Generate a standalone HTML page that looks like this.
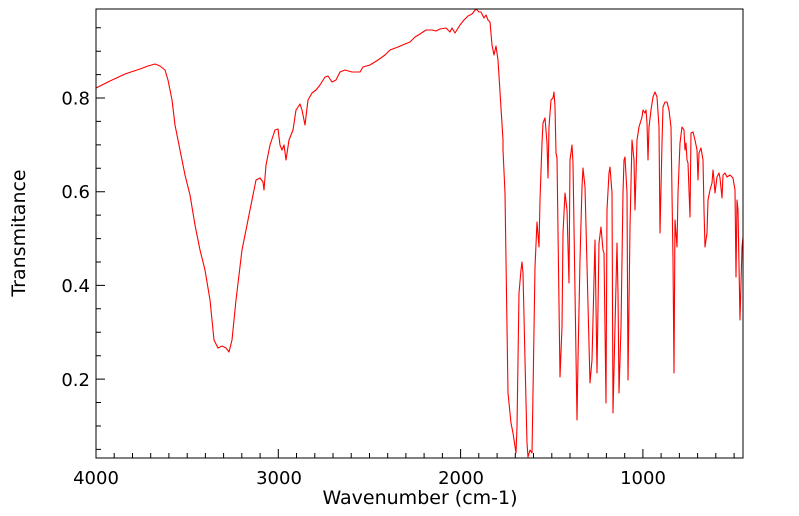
<!DOCTYPE html>
<html><head><meta charset="utf-8"><style>
body{margin:0;background:#fff;}
svg{display:block;font-family:"DejaVu Sans","Liberation Sans",sans-serif;}
</style></head><body>
<svg width="799" height="516" viewBox="0 0 799 516" xmlns="http://www.w3.org/2000/svg">
<rect width="799" height="516" fill="#fff"/>
<polyline fill="none" stroke="#ff0000" stroke-width="1.1" stroke-linejoin="round" points="
96,88 110,81 125,74 140,69 148,66 155,64 160,66 165,70 168,80 172,100 175,125 180,150 185,175 190,195 195,225 200,250 205,270 210,300 212,320 214,340 218,348 222,346 226,348 229,352 232,340 234,320 236,300 242,250 250,210 256,180 260,178 263,182 264,190 266,165 270,145 275,130 278,129 280,145 282,150 284,145 286,160 289,140 293,130 296,110 300,104 302,110 305,125 308,100 312,93 316,90 320,85 325,77 328,76 332,82 336,80 340,72 345,70 352,72 360,72 363,67 370,65 378,60 385,55 390,50 398,47 405,44 410,42 415,37 420,34 426,30 432,30 436,31 440,29 446,28 450,32 452,28 455,33 460,25 464,20 468,16 472,14 476,9 479,12 481,12 484,18 486,15 488,20 490,22 492,45 494,55 496,46 498,60 503,140 503,150 505,193 507,327 508,393 511,423 513,433 516,453 517,427 519,293 521,270 522,262 523,273 525,360 527,443 528,457 530,450 532,453 533,393 535,267 537,222 539,247 540,200 542,143 543,123 545,118 547,143 548,178 549,127 551,100 553,98 554,92 555,107 556,153 557,158 560,377 562,327 563,233 565,193 567,210 569,283 570,160 572,145 573,163 577,420 578,360 580,260 582,187 583,168 585,187 590,383 592,360 595,240 597,373 599,243 601,227 603,250 604,253 606,403 607,210 609,173 610,167 612,193 613,413 615,327 617,243 618,293 619,393 621,327 623,193 624,160 625,157 627,193 628,380 630,227 632,140 634,160 635,210 637,140 639,127 642,117 643,110 645,113 646,110 647,123 648,160 649,127 651,110 653,97 655,92 657,97 659,127 660,233 662,143 663,107 665,102 667,102 669,110 671,127 673,260 674,373 675,220 677,247 678,193 680,143 682,127 684,130 685,150 686,143 687,160 688,163 690,217 691,133 693,132 695,140 697,150 698,180 699,153 701,148 703,160 704,210 705,247 707,233 708,200 710,190 712,183 713,170 714,180 715,193 717,177 719,173 720,178 722,198 723,175 725,173 727,177 730,175 733,178 735,190 736,277 737,200 738,210 740,320 742,247 743,237"/>
<rect x="96" y="9" width="647" height="449" fill="none" stroke="#000" stroke-width="1"/>
<g stroke="#000" stroke-width="1">
<path d="M96,458v-9M114.2,458v-5M132.5,458v-5M150.7,458v-5M168.9,458v-5M187.2,458v-5M205.4,458v-5M223.6,458v-5M241.8,458v-5M260.1,458v-5M278.3,458v-9M296.5,458v-5M314.8,458v-5M333,458v-5M351.2,458v-5M369.5,458v-5M387.7,458v-5M405.9,458v-5M424.1,458v-5M442.4,458v-5M460.6,458v-9M478.8,458v-5M497.1,458v-5M515.3,458v-5M533.5,458v-5M551.8,458v-5M570,458v-5M588.2,458v-5M606.4,458v-5M624.7,458v-5M642.9,458v-9M661.1,458v-5M679.4,458v-5M697.6,458v-5M715.8,458v-5M734.1,458v-5"/>
<path d="M96,27.7h5M96,51.2h5M96,74.6h5M96,98h9M96,121.4h5M96,144.9h5M96,168.3h5M96,191.7h9M96,215.1h5M96,238.6h5M96,262h5M96,285.4h9M96,308.8h5M96,332.3h5M96,355.7h5M96,379.1h9M96,402.5h5M96,426h5M96,449.4h5"/>
</g>
<g font-size="18" fill="#000" text-anchor="end">
<text x="90" y="104.5">0.8</text>
<text x="90" y="198">0.6</text>
<text x="90" y="292">0.4</text>
<text x="90" y="386">0.2</text>
</g>
<g font-size="18" fill="#000" text-anchor="middle">
<text x="96" y="484">4000</text>
<text x="279" y="484">3000</text>
<text x="461" y="484">2000</text>
<text x="643" y="484">1000</text>
<text x="420" y="504" font-size="19">Wavenumber (cm-1)</text>
<text transform="translate(25,233) rotate(-90)" font-size="19">Transmitance</text>
</g>
</svg>
</body></html>
